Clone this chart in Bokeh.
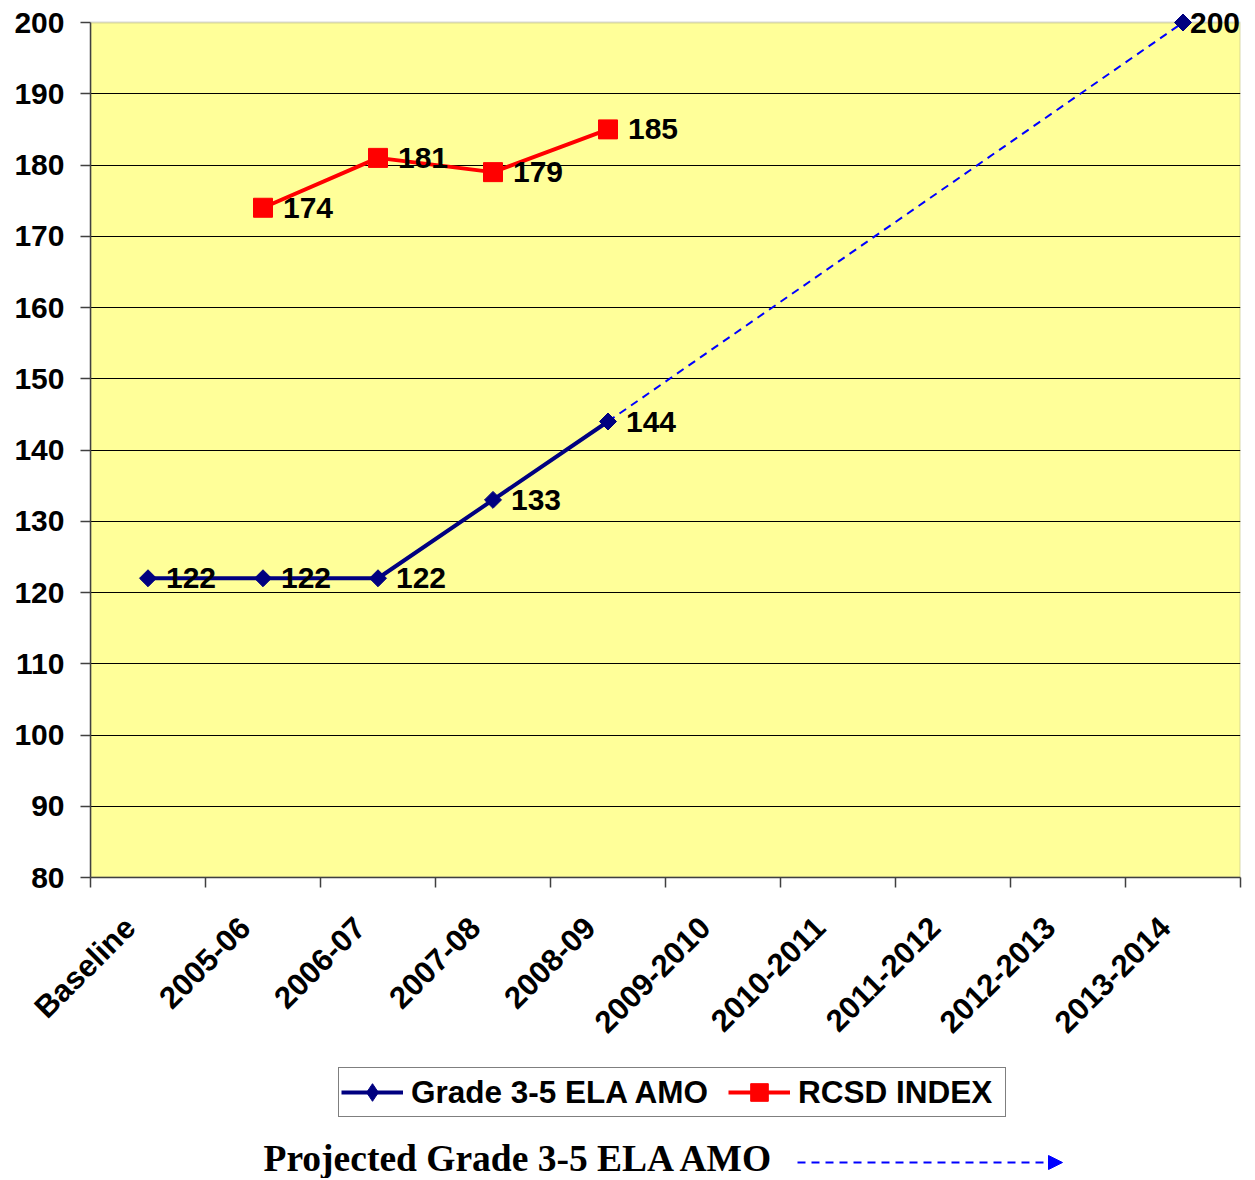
import math
from bokeh.plotting import figure
from bokeh.layouts import column
from bokeh.models import (ColumnDataSource, FixedTicker, LabelSet, Legend, LegendItem,
                          Label, Arrow, NormalHead, BoxAnnotation)
from bokeh.core.properties import value
from bokeh.embed import file_html
from bokeh.resources import INLINE

nan = float("nan")

# ---- data ----
categories = ["Baseline", "2005-06", "2006-07", "2007-08", "2008-09",
              "2009-2010", "2010-2011", "2011-2012", "2012-2013", "2013-2014"]
amo_values = [122, 122, 122, 133, 144, nan, nan, nan, nan, 200]
rcsd_values = [nan, 174, 181, 179, 185, nan, nan, nan, nan, nan]
projected_categories = ["2008-09", "2013-2014"]
projected_values = [144, 200]
y_ticks = [80, 90, 100, 110, 120, 130, 140, 150, 160, 170, 180, 190, 200]

series_amo = "Grade 3-5 ELA AMO"
series_rcsd = "RCSD INDEX"
projected_text = "Projected Grade 3-5 ELA AMO"

# ---- layout / style constants ----
FONT = "Liberation Sans"
LEFT = 90                # left border (frame starts here)
BAND_PX = 115            # width of one category band in px
FRAME_W = BAND_PX * len(categories)
UNIT_PX = 855 / 120      # px per y unit
TOP_PAD = 14             # extra room above the 200 line for the top label
FRAME_H = 855 + TOP_PAD
LABEL_SHIFT = 18 / BAND_PX
W = LEFT + FRAME_W + 8
H1 = 1060
H2 = 118
AMO_COLOR = "#000080"
RCSD_COLOR = "#FF0000"
PROJ_COLOR = "#0000FF"

n = len(categories)
xc = [i + 0.5 for i in range(n)]
proj_x = [categories.index(c) + 0.5 for c in projected_categories]
y0, y1 = y_ticks[0], y_ticks[-1]

def label_rows(vals):
    xs, ys, ts = [], [], []
    for x, v in zip(xc, vals):
        if not math.isnan(v):
            xs.append(x); ys.append(v); ts.append(str(int(v)))
    return xs, ys, ts

p = figure(width=W, height=H1,
           output_backend="svg", toolbar_location=None,
           x_range=(0, n), y_range=(y0, y1 + TOP_PAD / UNIT_PX),
           min_border_left=LEFT, min_border_right=8, min_border_top=8,
           min_border_bottom=H1 - 8 - FRAME_H)
p.background_fill_color = "white"
p.border_fill_color = "white"
p.outline_line_color = None

# plot area (yellow, grey border) drawn beneath grid
plot_area = BoxAnnotation(left=0, right=n, bottom=y0, top=y1, level="underlay",
                          fill_color="#FFFF99", fill_alpha=1,
                          line_color="#808080", line_width=2)
p.center = [plot_area] + list(p.center)

# y axis
p.yaxis.ticker = FixedTicker(ticks=y_ticks)
p.yaxis.bounds = (y0, y1)
p.yaxis.major_label_text_font = FONT
p.yaxis.major_label_text_font_style = "bold"
p.yaxis.major_label_text_font_size = "30px"
p.yaxis.major_label_text_color = "black"
p.yaxis.axis_line_color = "#404040"
p.yaxis.axis_line_width = 1.5
p.yaxis.major_tick_line_color = "#404040"
p.yaxis.major_tick_line_width = 1.5
p.yaxis.major_tick_out = 10
p.yaxis.major_tick_in = 0
p.yaxis.minor_tick_line_color = None
p.yaxis.major_label_standoff = 16

# x axis: labels near band centres, ticks at band boundaries
label_x = [x - LABEL_SHIFT for x in xc]
p.xaxis.ticker = FixedTicker(ticks=label_x, minor_ticks=list(range(n + 1)))
p.xaxis.bounds = (0, n)
p.xaxis.major_label_overrides = {x: c for x, c in zip(label_x, categories)}
p.xaxis.major_label_orientation = math.pi / 4
p.xaxis.major_label_text_font = FONT
p.xaxis.major_label_text_font_style = "bold"
p.xaxis.major_label_text_font_size = "31px"
p.xaxis.major_label_text_color = "black"
p.xaxis.major_tick_line_color = None
p.xaxis.major_tick_out = 0
p.xaxis.major_tick_in = 0
p.xaxis.minor_tick_line_color = "#404040"
p.xaxis.minor_tick_line_width = 1.5
p.xaxis.minor_tick_out = 10
p.xaxis.minor_tick_in = 0
p.xaxis.axis_line_color = "#404040"
p.xaxis.axis_line_width = 1.5
p.xaxis.major_label_standoff = 35

p.xgrid.grid_line_color = None
p.ygrid.grid_line_color = "black"
p.ygrid.grid_line_width = 1
p.ygrid.ticker = FixedTicker(ticks=y_ticks[1:-1])

# projected dashed line
p.line(proj_x, projected_values, line_color=PROJ_COLOR, line_width=2, line_dash="8 6")

# series
AMO_LINE = dict(line_color=AMO_COLOR, line_width=4)
AMO_MARK = dict(marker="square", angle=math.pi / 4, size=12,
                fill_color=AMO_COLOR, line_color=AMO_COLOR)
RCSD_LINE = dict(line_color=RCSD_COLOR, line_width=4)
RCSD_MARK = dict(marker="square", size=19, fill_color=RCSD_COLOR, line_color=RCSD_COLOR)

p.line(xc, amo_values, **AMO_LINE)
p.scatter(xc, amo_values, **AMO_MARK)
p.line(xc, rcsd_values, **RCSD_LINE)
p.scatter(xc, rcsd_values, **RCSD_MARK)

# data labels
ax, ay, at = label_rows(amo_values)
a_off = [18] * len(at)
a_off[-1] = 7
src_a = ColumnDataSource(dict(x=ax, y=ay, t=at, o=a_off))
p.add_layout(LabelSet(x="x", y="y", text="t", source=src_a, x_offset="o",
                      text_font=value(FONT), text_font_style="bold",
                      text_font_size="30px", text_baseline="middle",
                      text_color="black"))
rx, ry, rt = label_rows(rcsd_values)
src_r = ColumnDataSource(dict(x=rx, y=ry, t=rt))
p.add_layout(LabelSet(x="x", y="y", text="t", source=src_r, x_offset=20,
                      text_font=value(FONT), text_font_style="bold",
                      text_font_size="30px", text_baseline="middle",
                      text_color="black"))

# ---- key strip: legend + projected note (frame aligned with the chart's) ----
p2 = figure(width=W, height=H2, output_backend="svg",
            toolbar_location=None, x_axis_location=None, y_axis_location=None,
            min_border=0, x_range=(0, 1), y_range=(0, 1))
p2.outline_line_color = None
p2.xgrid.grid_line_color = None
p2.ygrid.grid_line_color = None

# legend keys (renderers with no visible points that only carry the series styles)
k_amo = [p2.line([nan], [nan], **AMO_LINE),
         p2.scatter([nan], [nan], marker="diamond",
                    fill_color=AMO_COLOR, line_color=AMO_COLOR)]
k_rcsd = [p2.line([nan], [nan], **RCSD_LINE),
          p2.scatter([nan], [nan], marker="square",
                     fill_color=RCSD_COLOR, line_color=RCSD_COLOR)]
legend = Legend(items=[LegendItem(label=series_amo, renderers=k_amo),
                       LegendItem(label=series_rcsd, renderers=k_rcsd)],
                orientation="horizontal",
                location=(338 - LEFT, H2 - (1117 - H1)),
                label_text_font=FONT, label_text_font_style="bold",
                label_text_font_size="31.5px", label_text_color="black",
                glyph_width=62, glyph_height=44, label_width=205,
                label_standoff=8, spacing=20, padding=2, margin=0,
                border_line_color="black", border_line_width=1,
                background_fill_color="white", background_fill_alpha=1)
p2.add_layout(legend, "center")

p2.add_layout(Label(x=263 - LEFT, y=H2 - (1158 - H1), x_units="screen", y_units="screen",
                    text=projected_text, text_font="Liberation Serif",
                    text_font_style="bold", text_font_size="37.5px",
                    text_baseline="middle", text_color="black"))
p2.add_layout(Arrow(x_start=797 - LEFT, y_start=H2 - (1162 - H1), x_end=1062 - LEFT,
                    y_end=H2 - (1162 - H1),
                    start_units="screen", end_units="screen",
                    line_color=PROJ_COLOR, line_width=2, line_dash="8 6",
                    end=NormalHead(size=14, fill_color=PROJ_COLOR,
                                   line_color=PROJ_COLOR)))

open("out.html", "w").write(file_html(column(p, p2), INLINE))
